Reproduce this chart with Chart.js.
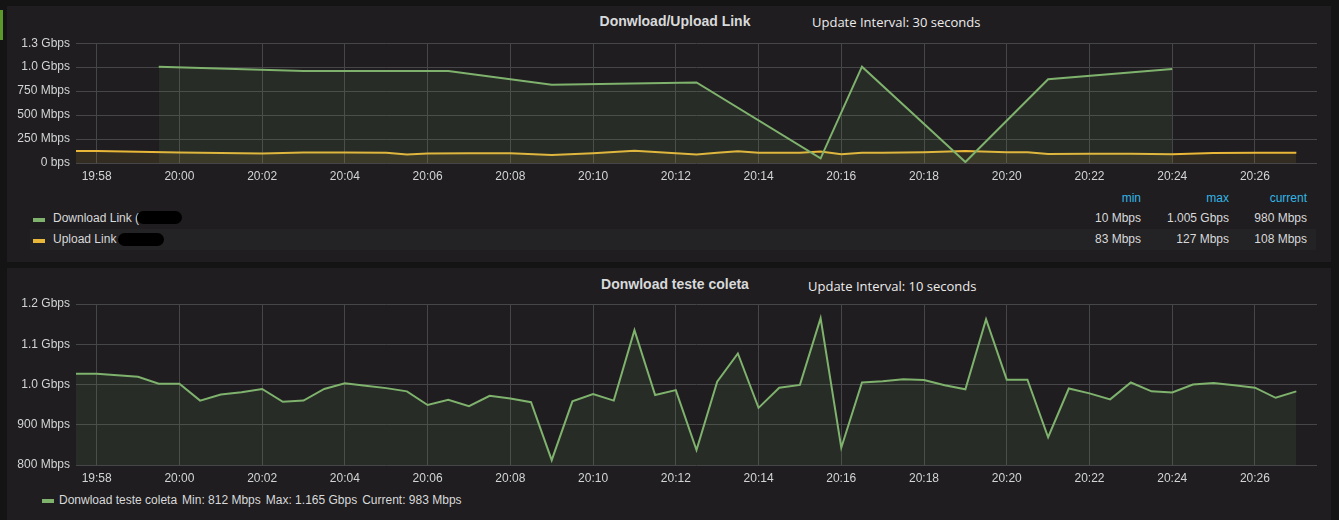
<!DOCTYPE html>
<html><head><meta charset="utf-8">
<script src="https://cdn.jsdelivr.net/npm/chart.js@4.4.0/dist/chart.umd.min.js"></script>
<style>
html,body{margin:0;padding:0;background:#141414;width:1339px;height:520px;overflow:hidden;font-family:"Liberation Sans",Arial,sans-serif;}
.panel{position:absolute;background:#1f1d1f;}
.flag{position:absolute;left:0;top:10px;width:3px;height:30px;background:#5b9a2a;}
.title{position:absolute;color:#d8d9da;font-weight:bold;font-size:14px;transform:translate(-50%,-50%);white-space:nowrap;}
.upd{position:absolute;color:#ececec;font-family:"Open Sans",sans-serif;font-size:13px;white-space:nowrap;transform:translateY(-50%);}
canvas{position:absolute;left:0;}
.leg{position:absolute;color:#d8d9da;font-size:12px;white-space:nowrap;transform:translateY(-50%);}
.leg span{margin-left:5px;}
.r{transform:translate(-100%,-50%);}
.hd{color:#33b5e5;}
.sw{position:absolute;width:12px;height:4px;}
.band{position:absolute;background:#232224;}
.blob{position:absolute;background:#000;border-radius:8px;}
</style>
</head><body>
<div class="flag"></div>
<div class="panel" style="left:7px;top:6px;width:1324px;height:256px;"></div>
<div class="panel" style="left:7px;top:268px;width:1324px;height:260px;"></div>
<div class="band" style="left:30px;top:229px;width:1286px;height:21px;"></div>

<div class="title" style="left:675px;top:21px;">Donwload/Upload Link</div>
<div class="upd" style="left:812px;top:22px;">Update Interval: 30 seconds</div>
<div class="title" style="left:675px;top:284px;">Donwload teste coleta</div>
<div class="upd" style="left:808px;top:286px;">Update Interval: 10 seconds</div>

<canvas id="c1" width="1339" height="160" style="top:30px"></canvas>
<canvas id="c2" width="1339" height="200" style="top:290px"></canvas>

<div id="legend1"></div>
<div id="legend2"></div>

<script>
// ---------- data ----------
const xTickLabels = ['19:58','20:00','20:02','20:04','20:06','20:08','20:10','20:12','20:14','20:16','20:18','20:20','20:22','20:24','20:26'];
const xRange = ['19:57:30','20:27:30'];

const dlTimes  = ['19:59:30','20:03:00','20:06:30','20:09:00','20:12:30','20:15:30','20:16:30','20:19:00','20:21:00','20:24:00'];
const dlValues = [1005, 960, 960, 816, 840, 48, 1005, 10, 874, 980];

const ulTimes  = ['19:57:30','19:58:00','19:59:00','20:00:00','20:01:00','20:02:00','20:03:00','20:04:00','20:05:00','20:05:30','20:06:00','20:07:00','20:08:00','20:09:00','20:10:00','20:11:00','20:12:00','20:12:30','20:13:00','20:13:30','20:14:00','20:15:00','20:15:30','20:16:00','20:16:30','20:17:00','20:18:00','20:19:00','20:20:00','20:20:30','20:21:00','20:22:00','20:23:00','20:24:00','20:25:00','20:26:00','20:27:00'];
const ulValues = [126,125,118,110,105,99,110,110,108,89,100,102,102,83,102,127,102,90,108,123,108,108,120,92,106,108,113,125,113,112,95,97,96,92,105,108,108];

const topYTicks  = [0,250,500,750,1000,1250];
const topYLabels = ['0 bps','250 Mbps','500 Mbps','750 Mbps','1.0 Gbps','1.3 Gbps'];

const colTimes = ['19:57:30','19:58:00','19:58:30','19:59:00','19:59:30','20:00:00','20:00:30','20:01:00','20:01:30','20:02:00','20:02:30','20:03:00','20:03:30','20:04:00','20:04:30','20:05:00','20:05:30','20:06:00','20:06:30','20:07:00','20:07:30','20:08:00','20:08:30','20:09:00','20:09:30','20:10:00','20:10:30','20:11:00','20:11:30','20:12:00','20:12:30','20:13:00','20:13:30','20:14:00','20:14:30','20:15:00','20:15:30','20:16:00','20:16:30','20:17:00','20:17:30','20:18:00','20:18:30','20:19:00','20:19:30','20:20:00','20:20:30','20:21:00','20:21:30','20:22:00','20:22:30','20:23:00','20:23:30','20:24:00','20:24:30','20:25:00','20:25:30','20:26:00','20:26:30','20:27:00'];
const colValues = [1027,1027,1023,1019,1002,1002,960,975,981,989,957,960,989,1003,997,991,983,949,962,946,972,965,956,812,958,976,960,1135,974,986,837,1007,1077,942,992,999,1165,843,1005,1008,1013,1011,998,988,1162,1012,1012,869,990,978,963,1005,983,980,1000,1004,998,992,967,983];

const botYTicks  = [800,900,1000,1100,1200];
const botYLabels = ['800 Mbps','900 Mbps','1.0 Gbps','1.1 Gbps','1.2 Gbps'];

const legend1Names = ['Download Link (','Upload Link'];
const legend1Cols  = ['min','max','current'];
const legend1Stats = [['10 Mbps','1.005 Gbps','980 Mbps'],['83 Mbps','127 Mbps','108 Mbps']];
const legend2Name  = 'Donwload teste coleta';
const legend2Stats = ['Min: 812 Mbps','Max: 1.165 Gbps','Current: 983 Mbps'];

// ---------- helpers ----------
const sec = s => { const p = s.split(':').map(Number); return p[0]*3600 + p[1]*60 + (p[2]||0); };
const pts = (ts, vs) => ts.map((t,i) => ({x: sec(t), y: vs[i]}));
const GREEN = '#7eb26d', YELLOW = '#eab839';
const gridColor = '#464547';
const tickFont = {family:'"Liberation Sans", Arial, sans-serif', size:12};
const tickColor = '#d3d4d5';

function xScale(h){
  return {
    type:'linear', min: sec(xRange[0]), max: sec(xRange[1]),
    afterBuildTicks: a => { a.ticks = xTickLabels.map(s => ({value: sec(s)})); },
    afterFit: a => { a.height = h; },
    ticks:{callback:(v,i)=>xTickLabels[i], color:tickColor, font:tickFont, padding:6, maxRotation:0, autoSkip:false},
    grid:{color:gridColor, drawTicks:false},
    border:{display:false}
  };
}
function yScale(min,max,vals,labels){
  return {
    min, max,
    afterBuildTicks: a => { a.ticks = vals.map(v => ({value:v})); },
    afterFit: a => { a.width = 76; },
    ticks:{callback:(v,i)=>labels[i], color:tickColor, font:tickFont, padding:6},
    grid:{color:gridColor, drawTicks:false},
    border:{display:false}
  };
}
const common = {responsive:false, animation:false, devicePixelRatio:1,
  plugins:{legend:{display:false}, tooltip:{enabled:false}},
  elements:{point:{radius:0}, line:{tension:0, borderWidth:2}}};

new Chart(document.getElementById('c1'), {
  type:'line',
  data:{datasets:[
    {data: pts(dlTimes, dlValues), borderColor:GREEN, backgroundColor:'rgba(126,178,109,0.10)', fill:'origin'},
    {data: pts(ulTimes, ulValues), borderColor:YELLOW, backgroundColor:'rgba(234,184,57,0.10)', fill:'origin'}
  ]},
  options:Object.assign({}, common, {
    layout:{padding:{left:0,right:22,top:11,bottom:0}},
    scales:{x:xScale(27), y:yScale(0,1250,topYTicks,topYLabels)}
  })
});

new Chart(document.getElementById('c2'), {
  type:'line',
  data:{datasets:[
    {data: pts(colTimes, colValues), borderColor:GREEN, backgroundColor:'rgba(126,178,109,0.10)', fill:'start'}
  ]},
  options:Object.assign({}, common, {
    layout:{padding:{left:0,right:22,top:14,bottom:0}},
    scales:{x:xScale(25), y:yScale(800,1200,botYTicks,botYLabels)}
  })
});

// ---------- legends ----------
const L1 = document.getElementById('legend1');
const colRight = [1141,1229,1307];
const rowY = [218,239];
let h = '';
legend1Cols.forEach((c,i)=>{ h += `<div class="leg r hd" style="left:${colRight[i]}px;top:198px">${c}</div>`; });
legend1Names.forEach((n,r)=>{
  const col = r===0?GREEN:YELLOW;
  h += `<div class="sw" style="left:33px;top:${rowY[r]}px;background:${col};"></div>`;
  h += `<div class="leg" style="left:53px;top:${rowY[r]}px">${n}</div>`;
  legend1Stats[r].forEach((s,i)=>{ h += `<div class="leg r" style="left:${colRight[i]}px;top:${rowY[r]}px">${s}</div>`; });
});
h += `<div class="blob" style="left:137px;top:211px;width:45px;height:13px;"></div>`;
h += `<div class="blob" style="left:118px;top:233px;width:46px;height:13px;"></div>`;
L1.innerHTML = h;

const L2 = document.getElementById('legend2');
L2.innerHTML = `<div class="sw" style="left:42px;top:499px;background:${GREEN};"></div>` +
  `<div class="leg" style="left:59px;top:500px">${legend2Name}${legend2Stats.map(s=>'<span>'+s+'</span>').join('')}</div>`;
</script>
</body></html>
